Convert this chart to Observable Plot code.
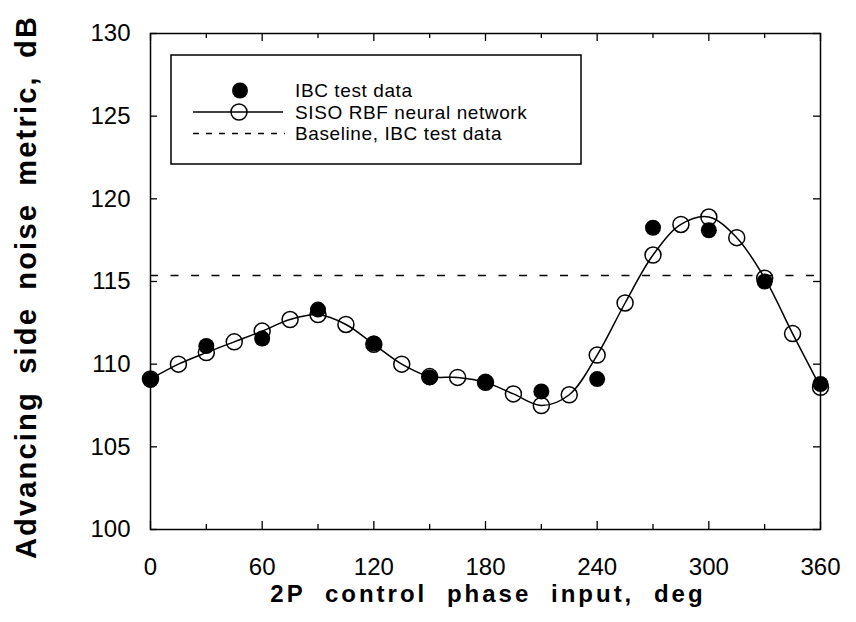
<!DOCTYPE html>
<html><head><meta charset="utf-8">
<script src="https://cdn.jsdelivr.net/npm/d3@7"></script>
<script src="https://cdn.jsdelivr.net/npm/@observablehq/plot@0.6"></script>
<style>
body{margin:0;background:#fff;}
#chart svg{font-family:"Liberation Sans",Arial,Helvetica,sans-serif;background:#fff;}
g[aria-label="x-axis tick label"] text, g[aria-label="y-axis tick label"] text{font-size:24px;fill:#000;}
</style></head><body><div id="chart"></div>
<script>
// SISO RBF neural network (open circles, every 15 deg)
const rbfPhase = [0,15,30,45,60,75,90,105,120,135,150,165,180,195,210,225,240,255,270,285,300,315,330,345,360];
const rbfNoise = [109.1,110.0,110.7,111.35,112.0,112.7,113.0,112.4,111.2,110.0,109.25,109.2,108.9,108.2,107.5,108.15,110.55,113.7,116.6,118.45,118.9,117.65,115.2,111.85,108.6];
// IBC test data (filled circles)
const ibcPhase = [0,30,60,90,120,150,180,210,240,270,300,330,360];
const ibcNoise = [109.05,111.1,111.55,113.3,111.25,109.2,108.9,108.35,109.1,118.25,118.1,115.0,108.8];
// Baseline, IBC test data
const baselineNoise = [115.37];
// ticks
const xMajorTicks = [0,60,120,180,240,300,360];
const xMinorTicks = [30,90,150,210,270,330];
const yTicks = [100,105,110,115,120,125,130];
const xLabel = "2P control phase input, deg";
const yLabel = "Advancing side noise metric, dB";
const legendLabels = ["IBC test data","SISO RBF neural network","Baseline, IBC test data"];

const rbf = rbfPhase.map((p,i)=>({phase:p, noise:rbfNoise[i]}));
const ibc = ibcPhase.map((p,i)=>({phase:p, noise:ibcNoise[i]}));

const W = 856, H = 622, mL = 150, mR = 36, mT = 33, mB = 93;
const plotW = W - mL - mR, plotH = H - mT - mB;
const tick = {stroke:"#000", strokeWidth:1.3};

const chart = Plot.plot({
  width: W, height: H,
  marginLeft: mL, marginRight: mR, marginTop: mT, marginBottom: mB,
  x: {domain:[0,360]},
  y: {domain:[100,130]},
  marks: [
    Plot.axisX(xMajorTicks, {anchor:"bottom", tickSize:0, tickPadding:28, tickFormat:d=>String(d), label:null}),
    Plot.axisY(yTicks, {anchor:"left", tickSize:0, tickPadding:20, tickFormat:d=>String(d), label:null}),
    // inward ticks: bottom & top
    Plot.ruleX(xMajorTicks, {x:d=>d, insetTop: plotH - 8, ...tick}),
    Plot.ruleX(xMinorTicks, {x:d=>d, insetTop: plotH - 5, ...tick}),
    Plot.ruleX(xMajorTicks, {x:d=>d, insetBottom: plotH - 8, ...tick}),
    Plot.ruleX(xMinorTicks, {x:d=>d, insetBottom: plotH - 5, ...tick}),
    // inward ticks: left & right
    Plot.ruleY(yTicks, {y:d=>d, insetRight: plotW - 7, ...tick}),
    Plot.ruleY(yTicks, {y:d=>d, insetLeft: plotW - 7, ...tick}),
    Plot.frame({stroke:"#000", strokeWidth:1.5}),
    Plot.ruleY(baselineNoise, {stroke:"#000", strokeWidth:1.5, strokeDasharray:"8,12.5"}),
    Plot.line(rbf, {x:"phase", y:"noise", curve:"catmull-rom", stroke:"#000", strokeWidth:1.5}),
    Plot.dot(rbf, {x:"phase", y:"noise", r:8, stroke:"#000", strokeWidth:1.5, fill:"none"}),
    Plot.dot(ibc, {x:"phase", y:"noise", r:8, fill:"#000", stroke:"none"})
  ]
});
document.getElementById("chart").appendChild(chart);

const svg = d3.select(chart);
// axis titles
svg.append("text").attr("x", 488).attr("y", 602)
  .attr("text-anchor","middle").attr("font-size",24).attr("font-weight","bold")
  .attr("letter-spacing","3px").attr("word-spacing","10px").attr("fill","#000").text(xLabel);
svg.append("text").attr("transform","translate(36,287) rotate(-90)")
  .attr("text-anchor","middle").attr("font-size",29).attr("font-weight","bold")
  .attr("letter-spacing","2.2px").attr("word-spacing","7px").attr("fill","#000").text(yLabel);

// legend
const lg = svg.append("g").attr("aria-label","legend").attr("font-size",19).attr("fill","#000").attr("text-anchor","start");
lg.append("rect").attr("x",171).attr("y",55).attr("width",410).attr("height",109)
  .attr("fill","#fff").attr("stroke","#000").attr("stroke-width",1.5);
const rows = [90.5,112,133.5];
lg.append("circle").attr("cx",240).attr("cy",rows[0]).attr("r",8).attr("fill","#000");
lg.append("line").attr("x1",193).attr("x2",283).attr("y1",rows[1]).attr("y2",rows[1]).attr("stroke","#000").attr("stroke-width",1.5);
lg.append("circle").attr("cx",239).attr("cy",rows[1]).attr("r",8).attr("fill","none").attr("stroke","#000").attr("stroke-width",1.5);
lg.append("line").attr("x1",193).attr("x2",285).attr("y1",rows[2]).attr("y2",rows[2]).attr("stroke","#000").attr("stroke-width",1.5).attr("stroke-dasharray","6,7");
legendLabels.forEach((t,i)=>{
  lg.append("text").attr("x",295).attr("y",rows[i]).attr("dy","0.35em").attr("letter-spacing","0.6px").attr("text-anchor","start").text(t);
});
</script>
</body></html>
